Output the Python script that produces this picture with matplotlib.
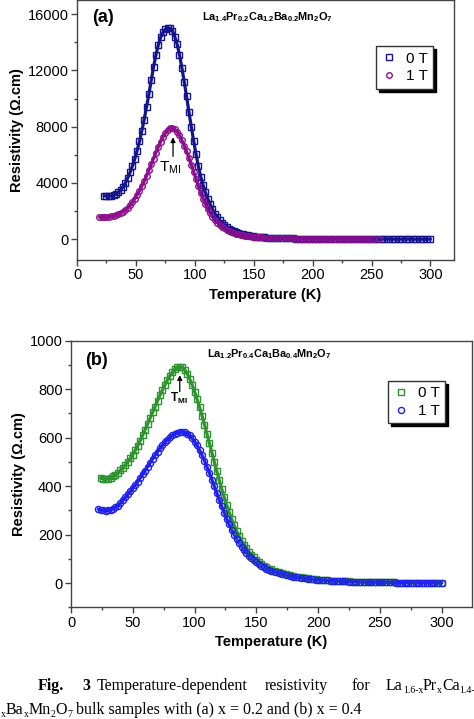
import matplotlib
matplotlib.use("Agg")
import matplotlib.pyplot as plt
from matplotlib.ticker import MultipleLocator

plt.rcParams['font.family'] = ['Liberation Sans', 'DejaVu Sans']
plt.rcParams['mathtext.fontset'] = 'custom'
plt.rcParams['mathtext.rm'] = 'Liberation Serif'
plt.rcParams['mathtext.sf'] = 'Liberation Sans'
plt.rcParams['mathtext.bf'] = 'Liberation Sans:bold'
plt.rcParams['mathtext.it'] = 'Liberation Serif:italic'

# ---------------- Panel (a): La1.4Pr0.2Ca1.2Ba0.2Mn2O7 ----------------
temp_a_0T = [23, 25, 27, 29, 31, 33, 35, 37, 39, 41, 43, 45, 47, 49, 51, 53, 55, 57, 59, 61,
             63, 65, 67, 69, 71, 73, 75, 77, 79, 81, 83, 85, 87, 89, 91, 93, 95, 97, 99, 101,
             103, 105, 107, 109, 111, 113, 115, 117, 119, 121, 123, 125, 127, 129, 131, 133,
             135, 137, 139, 141, 143, 145, 147, 149, 151, 153, 155, 157, 159,
             162, 165, 168, 171, 174, 177, 180, 183, 186, 189, 192, 195, 198, 201, 204, 207,
             210, 213, 216, 219, 222, 225, 228, 231, 234, 237, 240, 243, 246, 249, 252, 255,
             258, 261, 264, 267, 270, 273, 276, 279, 282, 285, 288, 291, 294, 297, 300]
rho_a_0T = [3100, 3070, 3060, 3080, 3130, 3210, 3330, 3500, 3720, 4000, 4350, 4750, 5200, 5700,
            6300, 6950, 7700, 8500, 9400, 10300, 11300, 12250, 13100, 13800, 14350, 14700,
            14920, 15000, 14980, 14800, 14400, 13850, 13100, 12200, 11200, 10150, 9050, 8000,
            7000, 6050, 5200, 4450, 3850, 3330, 2880, 2480, 2130, 1830, 1570, 1350, 1160, 1000,
            865, 750, 650, 565, 495, 435, 385, 342, 305, 273, 245, 220, 199, 180, 164, 150, 137,
            120, 106, 95, 85, 77, 70, 64, 58, 53, 49, 45, 42, 39, 36, 34, 32, 30, 28, 26, 25,
            23, 22, 21, 20, 19, 18, 17, 16, 15, 15, 14, 13, 13, 12, 12, 11, 11, 10, 10, 10,
            9, 9, 9, 8, 8, 8, 8]

temp_a_1T = [19, 21, 23, 25, 27, 29, 31, 33, 35, 37, 39, 41, 43, 45, 47, 49, 51, 53, 55, 57,
             59, 61, 63, 65, 67, 69, 71, 73, 75, 77, 79, 81, 83, 85, 87, 89, 91, 93, 95, 97,
             99, 101, 103, 105, 107, 109, 111, 113, 115, 117, 119, 121, 123, 125, 127, 129,
             131, 133, 135, 137, 139, 141, 143, 145, 147, 149, 151, 153, 155, 157, 159,
             162, 165, 168, 171, 174, 177, 180, 183, 186, 189, 192, 195, 198, 201, 204, 207,
             210, 213, 216, 219, 222, 225, 228, 231, 234, 237, 240, 243, 246, 249, 252, 256]
rho_a_1T = [1580, 1570, 1570, 1580, 1600, 1630, 1670, 1720, 1790, 1870, 1970, 2090, 2240, 2420,
            2630, 2870, 3140, 3440, 3770, 4120, 4500, 4900, 5320, 5740, 6160, 6560, 6930, 7260,
            7540, 7750, 7880, 7900, 7830, 7650, 7380, 7030, 6650, 6250, 5800, 5300, 4800, 4280,
            3780, 3310, 2880, 2500, 2160, 1860, 1600, 1380, 1190, 1030, 890, 775, 675, 590, 518,
            456, 403, 358, 319, 285, 256, 230, 207, 187, 170, 155, 142, 130, 120,
            110, 100, 91, 83, 76, 70, 64, 59, 55, 51, 47, 44, 41, 38, 36, 34, 32, 30, 28, 27,
            25, 24, 23, 22, 21, 20, 19, 18, 17, 17, 16, 15]

# ---------------- Panel (b): La1.2Pr0.4Ca1Ba0.4Mn2O7 ----------------
temp_b_0T = [24, 26, 28, 30, 32, 34, 36, 38, 40, 42, 44, 46, 48, 50, 52, 54, 56, 58, 60, 62,
             64, 66, 68, 70, 72, 74, 76, 78, 80, 82, 84, 86, 88, 90, 92, 94, 96, 98, 100, 102,
             104, 106, 108, 110, 112, 114, 116, 118, 120, 122, 124, 126, 128, 130, 132, 134,
             136, 138, 140, 142, 144, 146, 148, 150, 152, 154, 156, 158, 160,
             162, 165, 168, 171, 174, 177, 180, 183, 186, 189, 192, 195, 198, 201, 204, 207,
             210, 213, 216, 219, 222, 225, 228, 231, 234, 237, 240, 243, 246, 249, 252, 255,
             258, 261, 264, 267, 270, 273, 276, 279, 282, 285, 288, 291, 294, 297, 300]
rho_b_0T = [433, 430, 428, 430, 434, 440, 447, 455, 465, 476, 488, 501, 515, 530, 548, 567, 588,
            610, 633, 656, 680, 704, 728, 752, 775, 797, 818, 838, 855, 870, 882, 890, 893, 890,
            880, 864, 843, 818, 790, 759, 726, 691, 654, 616, 577, 538, 499, 461, 424, 388, 354,
            322, 292, 264, 238, 215, 194, 175, 158, 143, 129, 117, 106, 96, 87, 79, 72, 66, 60,
            56, 50, 45, 40, 36, 32, 29, 26, 23, 21, 19, 17, 15.5, 14, 12.5, 11.5, 10.5, 9.5,
            8.7, 8, 7.3, 6.7, 6.1, 5.6, 5.1, 4.7, 4.3, 4, 3.7, 3.4, 3.1, 2.9, 2.7, 2.5, 2.3,
            2.1, 2, 1.9, 1.8, 1.7, 1.6, 1.5, 1.4, 1.3, 1.2, 1.1, 1.0]

temp_b_1T = [22, 24, 26, 28, 30, 32, 34, 36, 38, 40, 42, 44, 46, 48, 50, 52, 54, 56, 58, 60,
             62, 64, 66, 68, 70, 72, 74, 76, 78, 80, 82, 84, 86, 88, 90, 92, 94, 96, 98, 100,
             102, 104, 106, 108, 110, 112, 114, 116, 118, 120, 122, 124, 126, 128, 130, 132,
             134, 136, 138, 140, 142, 144, 146, 148, 150, 152, 154, 156, 158, 160,
             162, 165, 168, 171, 174, 177, 180, 183, 186, 189, 192, 195, 198, 201, 204, 207,
             210, 213, 216, 219, 222, 225, 228, 231, 234, 237, 240, 243, 246, 249, 252, 255,
             258, 261, 264, 267, 270, 273, 276, 279, 282, 285, 288, 291, 294, 297, 300]
rho_b_1T = [305, 302, 300, 299, 300, 302, 306, 312, 320, 330, 342, 354, 366, 379, 392, 405, 419,
            434, 449, 464, 480, 496, 512, 527, 542, 556, 569, 581, 592, 601, 609, 615, 620, 623,
            624, 622, 617, 609, 598, 584, 568, 549, 528, 505, 480, 454, 427, 399, 371, 343, 316,
            290, 265, 242, 220, 200, 182, 165, 150, 136, 124, 113, 103, 94, 86, 78, 71, 65, 60, 55,
            51, 46, 41, 37, 33, 30, 27, 24, 22, 20, 18, 16, 14.5, 13, 12, 11, 10, 9.1, 8.3, 7.6,
            7, 6.4, 5.9, 5.4, 5, 4.6, 4.2, 3.9, 3.6, 3.3, 3.0, 2.8, 2.6, 2.4, 2.2, 2.0, 1.9,
            1.8, 1.7, 1.6, 1.5, 1.4, 1.3, 1.2, 1.1, 1.0, 1.0]

legend_labels = ['0 T', '1 T']
xticks = [0, 50, 100, 150, 200, 250, 300]
formula_a = r'$\mathbf{La_{1.4}Pr_{0.2}Ca_{1.2}Ba_{0.2}Mn_{2}O_{7}}$'
formula_b = r'$\mathbf{La_{1.2}Pr_{0.4}Ca_{1}Ba_{0.4}Mn_{2}O_{7}}$'

W, H = 474, 719
fig = plt.figure(figsize=(W / 100, H / 100), dpi=100)
fig.patch.set_facecolor('white')

axA = fig.add_axes([77 / W, 459 / H, 377 / W, 260 / H])
axB = fig.add_axes([71 / W, 111.7 / H, 401 / W, 266.6 / H])

spine_col = '#444444'


def style(ax, ylim, ymajor, yminor, xlim):
    ax.set_xlim(*xlim)
    ax.set_ylim(*ylim)
    ax.set_xticks(xticks)
    ax.xaxis.set_minor_locator(MultipleLocator(25))
    ax.yaxis.set_major_locator(MultipleLocator(ymajor))
    ax.yaxis.set_minor_locator(MultipleLocator(yminor))
    ax.tick_params(which='major', direction='out', length=4, width=1, color=spine_col,
                   labelsize=10.5, pad=2)
    ax.tick_params(which='minor', direction='out', length=2.5, width=1, color=spine_col)
    for s in ax.spines.values():
        s.set_color(spine_col)
        s.set_linewidth(1.0)
    ax.set_xlabel('Temperature (K)', fontsize=10.5, fontweight='bold', labelpad=4)
    ax.set_ylabel('Resistivity (\u03a9.cm)', fontsize=10.5, fontweight='bold', labelpad=3)


def series(ax, t, r, marker, ms, color, label):
    # dense measured points: a band of the same colour under the open markers
    ax.plot(t, r, ls='-', lw=2.3, color=color, solid_capstyle='round', zorder=2)
    ax.plot(t, r, ls='none', marker=marker, ms=ms, mfc='none', mec=color, mew=1.0,
            label=label, zorder=3)


# Panel (a)
navy = '#14148c'
purple = '#8e0f8e'
series(axA, temp_a_0T, rho_a_0T, 's', 3.8, navy, legend_labels[0])
series(axA, temp_a_1T, rho_a_1T, 'o', 4.0, purple, legend_labels[1])
style(axA, (-1470, 17000), 4000, 2000, (0, 320))
axA.set_yticks([0, 4000, 8000, 12000, 16000])
axA.text(0.04, 0.965, '(a)', transform=axA.transAxes, fontsize=13, fontweight='bold',
         va='top', ha='left')
axA.text(0.505, 0.935, formula_a, transform=axA.transAxes, fontsize=7.8, ha='center',
         va='center')
axA.annotate('', xy=(81.5, 7250), xytext=(81.5, 5900),
             arrowprops=dict(arrowstyle='-|>', color='black', lw=0.9,
                             mutation_scale=7, shrinkA=0, shrinkB=0))
axA.text(79, 5100, r'T$_{\mathsf{MI}}$', fontsize=11, ha='center', va='center')
legA = axA.legend(loc='upper right', bbox_to_anchor=(0.944, 0.822), fontsize=11,
                  frameon=True, fancybox=False, shadow={'color': 'black', 'alpha': 1},
                  handlelength=1.0, handletextpad=0.6, borderpad=0.35, labelspacing=0.25,
                  borderaxespad=0)
legA.get_frame().set_edgecolor('#333333')
legA.get_frame().set_linewidth(1.0)

# Panel (b)
green = '#2f932f'
blue = '#1f1fee'
series(axB, temp_b_0T, rho_b_0T, 's', 4.0, green, legend_labels[0])
series(axB, temp_b_1T, rho_b_1T, 'o', 4.4, blue, legend_labels[1])
style(axB, (-100, 1000), 200, 100, (0, 324.5))
axB.text(0.035, 0.925, '(b)', transform=axB.transAxes, fontsize=13, fontweight='bold',
         va='center', ha='left')
axB.text(0.495, 0.95, formula_b, transform=axB.transAxes, fontsize=7.8, ha='center',
         va='center')
axB.annotate('', xy=(88, 858), xytext=(88, 790),
             arrowprops=dict(arrowstyle='-|>', color='black', lw=0.9,
                             mutation_scale=7, shrinkA=0, shrinkB=0))
axB.text(87.5, 762, r'$\mathbf{T_{MI}}$', fontsize=8.5, ha='center', va='center')
legB = axB.legend(loc='upper right', bbox_to_anchor=(0.933, 0.849), fontsize=11,
                  frameon=True, fancybox=False, shadow={'color': 'black', 'alpha': 1},
                  handlelength=1.0, handletextpad=0.6, borderpad=0.35, labelspacing=0.25,
                  borderaxespad=0)
legB.get_frame().set_edgecolor('#333333')
legB.get_frame().set_linewidth(1.0)

# Caption (justified first line, second line cut at the bottom)
renderer = fig.canvas.get_renderer()
CAP = 11.5
SUB = 7.0


def runs(x_px, base_px, parts):
    x = x_px
    for txt, size, dy, weight in parts:
        t = fig.text(x / W, 1 - (base_px + dy) / H, txt, fontsize=size,
                     fontfamily='Liberation Serif', fontweight=weight,
                     va='baseline', ha='left')
        x += t.get_window_extent(renderer).width


y1 = 690
runs(38, y1, [('Fig.', CAP, 0, 'bold')])
runs(82, y1, [('3', CAP, 0, 'bold')])
runs(97, y1, [('Temperature-dependent', CAP, 0, 'normal')])
runs(265, y1, [('resistivity', CAP, 0, 'normal')])
runs(352, y1, [('for', CAP, 0, 'normal')])
runs(386, y1, [('La', CAP, 0, 'normal'), ('1.6-x', SUB, 3, 'normal'),
               ('Pr', CAP, 0, 'normal'), ('x', SUB, 3, 'normal'),
               ('Ca', CAP, 0, 'normal'), ('1.4-', SUB, 3, 'normal')])
y2 = 714
runs(1, y2, [('x', SUB, 3, 'normal'), ('Ba', CAP, 0, 'normal'), ('x', SUB, 3, 'normal'),
             ('Mn', CAP, 0, 'normal'), ('2', SUB, 3, 'normal'), ('O', CAP, 0, 'normal'),
             ('7', SUB, 3, 'normal'),
             (' bulk samples with (a) x = 0.2 and (b) x = 0.4', CAP, 0, 'normal')])

fig.savefig('out.png', dpi=100, facecolor='white')
